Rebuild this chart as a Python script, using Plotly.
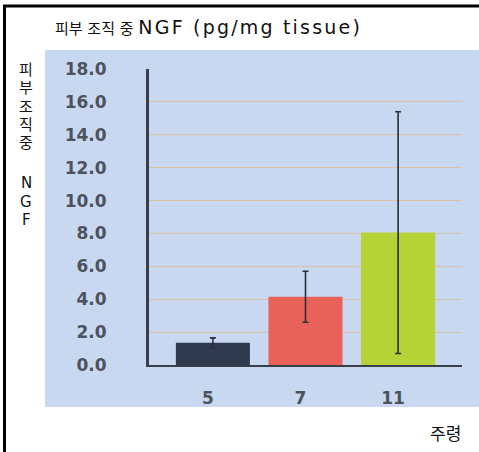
import plotly.graph_objects as go

W, H = 479, 452
categories = ["5", "7", "11"]
values = [1.35, 4.15, 8.05]
errors = [0.3, 1.55, 7.35]
bar_colors = ["#2f3a4f", "#e8625a", "#b6d236"]
y_ticks = [0, 2, 4, 6, 8, 10, 12, 14, 16, 18]
y_tick_text = [f"{v:.1f}" for v in y_ticks]
side_chars = ["피", "부", "조", "직", "중", "N", "G", "F"]
side_char_y = [70, 88, 107, 125, 143, 183, 202, 220]

def px(x):
    return x / W

def py(y):
    return 1 - y / H

fig = go.Figure()
fig.add_trace(go.Bar(
    x=categories, y=values,
    marker=dict(color=bar_colors, line=dict(width=0)),
    width=0.8,
    error_y=dict(type="data", array=errors, visible=True,
                 color="#2b2f38", thickness=1.6, width=3),
))

tick_font = dict(family="DejaVu Sans", size=17, color="#4d525c", weight="bold")

annotations = [
    dict(text="피부 조직 중 <span style='font-size:19px;letter-spacing:2.2px'>NGF (pg/mg tissue)</span>",
         xref="paper", yref="paper",
         x=px(53), y=py(27), xanchor="left", yanchor="middle",
         showarrow=False,
         font=dict(family="DejaVu Sans, Noto Sans CJK KR", size=15, color="#111111")),
    dict(text="주령", xref="paper", yref="paper",
         x=px(463), y=py(432), xanchor="right", yanchor="middle",
         showarrow=False,
         font=dict(family="Noto Sans CJK KR", size=17, color="#111111")),
]
for ch, yy in zip(side_chars, side_char_y):
    annotations.append(dict(
        text=ch, xref="paper", yref="paper",
        x=px(26), y=py(yy), xanchor="center", yanchor="middle",
        showarrow=False,
        font=dict(family="DejaVu Sans, Noto Sans CJK KR", size=15, color="#111111")))

fig.update_layout(
    width=W, height=H,
    margin=dict(l=0, r=0, t=0, b=0, autoexpand=False),
    paper_bgcolor="white",
    plot_bgcolor="rgba(0,0,0,0)",
    showlegend=False,
    xaxis=dict(
        domain=[px(149), px(462)],
        range=[-0.69, 2.69],
        automargin=False,
        showline=True, linecolor="#3a3e48", linewidth=2,
        showgrid=False, zeroline=False,
        ticks="", tickfont=tick_font,
        ticklabelstandoff=17, ticklabelshift=-5,
    ),
    yaxis=dict(
        domain=[py(365), py(69)],
        range=[0, 18],
        automargin=False,
        tickvals=y_ticks, ticktext=y_tick_text,
        showline=True, linecolor="#3a3e48", linewidth=3,
        showgrid=True, gridcolor="#dcc0a6", gridwidth=1,
        zeroline=False, ticks="",
        tickfont=tick_font,
        ticklabelstandoff=36,
    ),
    shapes=[
        dict(type="rect", xref="paper", yref="paper",
             x0=px(45), x1=1.0, y0=py(407), y1=py(50),
             fillcolor="#c9d8f1", line=dict(width=0), layer="below"),
        dict(type="line", xref="paper", yref="paper",
             x0=px(4.5), x1=px(4.5), y0=0, y1=py(5),
             line=dict(color="black", width=3)),
        dict(type="line", xref="paper", yref="paper",
             x0=px(3), x1=1.0, y0=py(6), y1=py(6),
             line=dict(color="black", width=3)),
    ],
    annotations=annotations,
)

fig.write_html(
    "out.html",
    config={"displayModeBar": False},
    post_script=(
        "document.body.style.margin='0';"
        "document.body.style.overflow='hidden';"
        "var d=document.getElementById('{plot_id}');"
        "d.style.position='fixed';d.style.top='0px';d.style.left='0px';"
    ),
)
